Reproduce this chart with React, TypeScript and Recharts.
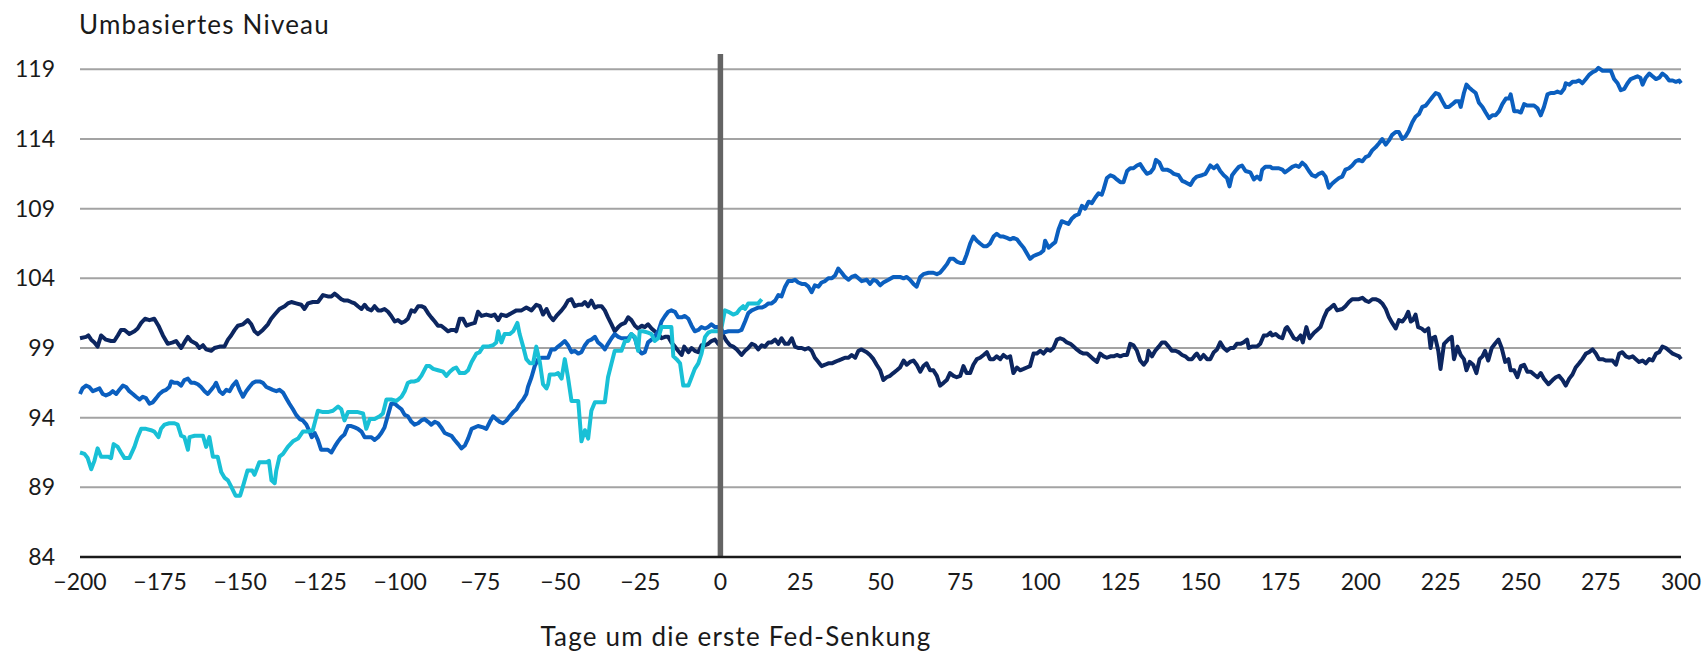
import React from 'react';
import { LineChart, Line, XAxis, YAxis, CartesianGrid, ReferenceLine } from 'recharts';

// Tage um die erste Fed-Senkung (x) und umbasiertes Niveau (y)
const xTicks = [-200, -175, -150, -125, -100, -75, -50, -25, 0, 25, 50, 75, 100, 125, 150, 175, 200, 225, 250, 275, 300];
const yTicks = [84, 89, 94, 99, 104, 109, 114, 119];

const darkBlueLine: [number, number][] = [
  [-200, 99.7], [-198.1, 99.8], [-197.4, 99.9], [-196.5, 99.6], [-195.5, 99.4], [-194.5, 99.1], [-193.4, 99.9], [-191.9, 99.6],
  [-190.3, 99.5], [-189.3, 99.5], [-188.2, 99.9], [-187.2, 100.3], [-186.1, 100.3], [-184.6, 100.0], [-183, 100.2], [-182, 100.4],
  [-180.9, 100.8], [-179.7, 101.1], [-178.3, 101.0], [-176.8, 101.1], [-175.5, 100.6], [-174.1, 99.9], [-172.6, 99.3], [-171, 99.4],
  [-170, 99.5], [-168.4, 99.0], [-167.4, 99.4], [-166.3, 99.8], [-165.3, 99.5], [-163.7, 99.3], [-162.7, 99.0], [-161.6, 99.2],
  [-160.6, 98.9], [-159, 98.8], [-158, 99.0], [-156.4, 99.1], [-154.9, 99.1], [-153.8, 99.6], [-152.8, 99.9], [-151.7, 100.3],
  [-150.7, 100.6], [-149.1, 100.7], [-147.6, 101.0], [-146.5, 100.7], [-145.5, 100.2], [-144.4, 100.0], [-142.9, 100.3], [-141.3, 100.7],
  [-140.3, 101.1], [-139.2, 101.4], [-137.7, 101.8], [-136.1, 102.0], [-135.1, 102.2], [-134, 102.3], [-132.5, 102.2], [-130.9, 102.1],
  [-129.9, 101.8], [-128.8, 102.2], [-127.3, 102.3], [-125.7, 102.3], [-124.1, 102.8], [-122.6, 102.7], [-121.5, 102.7], [-120.5, 102.9],
  [-119.4, 102.7], [-118.4, 102.5], [-117.4, 102.4], [-116.3, 102.4], [-115.3, 102.3], [-114.2, 102.2], [-113.2, 102.0], [-112.1, 101.8],
  [-111.1, 102.1], [-110.1, 101.8], [-109, 101.7], [-108, 102.0], [-106.9, 101.7], [-105.9, 101.7], [-104.9, 101.8], [-103.8, 101.6],
  [-102.8, 101.3], [-101.7, 100.9], [-100.7, 101.0], [-99.6, 100.8], [-98.6, 100.9], [-97.6, 101.1], [-96.5, 101.7], [-95.5, 101.6],
  [-94.4, 102.0], [-93.4, 102.0], [-92.4, 101.9], [-91.3, 101.5], [-90.3, 101.2], [-89.2, 100.9], [-88.2, 100.6], [-87.2, 100.6],
  [-86.1, 100.4], [-85.1, 100.2], [-84, 100.3], [-83, 100.3], [-82.5, 100.2], [-81.4, 101.1], [-80.4, 101.1], [-79.3, 100.6],
  [-78.3, 100.7], [-76.7, 100.8], [-75.7, 101.6], [-74.6, 101.3], [-73.1, 101.4], [-71.5, 101.3], [-70.5, 101.4], [-69.4, 101.0],
  [-68.4, 101.4], [-66.8, 101.3], [-65.3, 101.5], [-63.7, 101.7], [-62.1, 101.7], [-60.6, 101.9], [-59, 101.7], [-57.5, 102.1],
  [-56.4, 102.0], [-55.4, 101.4], [-54.3, 101.8], [-53.3, 101.3], [-52.2, 101.0], [-51.2, 101.3], [-49.6, 101.7], [-48.6, 102.0],
  [-47.6, 102.4], [-46.5, 102.5], [-45.5, 102.0], [-44.4, 102.1], [-43.2, 102.1], [-42.3, 102.3], [-41.3, 102.0], [-40.3, 102.4],
  [-39.2, 101.9], [-38.2, 102.0], [-37.1, 102.0], [-36.1, 101.7], [-35.1, 101.2], [-34, 100.7], [-33, 100.2], [-31.9, 100.5],
  [-30.9, 100.7], [-29.8, 100.8], [-28.8, 101.2], [-27.8, 101.0], [-26.7, 100.6], [-25.7, 100.4], [-24.6, 100.6], [-23.6, 100.5],
  [-22.6, 100.7], [-21.5, 100.4], [-20.5, 100.2], [-19.4, 100.0], [-18.4, 99.7], [-17.3, 99.8], [-16.3, 99.8], [-15.3, 99.4],
  [-14.2, 99.1], [-13.2, 98.8], [-12.1, 98.5], [-11.3, 99.1], [-10, 98.7], [-9, 99.0], [-8, 98.8], [-6.9, 98.7],
  [-5.9, 99.2], [-4.8, 99.2], [-3.8, 99.3], [-2.8, 99.5], [-1.7, 99.6], [-0.7, 99.3], [0, 99.6], [0.9, 99.9],
  [1.9, 99.5], [3, 99.2], [4, 99.1], [5.1, 98.9], [6.6, 98.5], [7.7, 98.8], [8.7, 99.0], [9.8, 99.3],
  [10.8, 99.2], [11.8, 98.9], [12.9, 99.2], [13.9, 99.1], [15, 99.4], [16, 99.4], [17.1, 99.6], [18.1, 99.3],
  [19.1, 99.7], [20.2, 99.3], [21.2, 99.3], [22.3, 99.7], [23.3, 99.1], [24.3, 99.0], [25.4, 99.0], [26.4, 98.9],
  [27.5, 99.0], [28.5, 98.8], [29.5, 98.3], [30.6, 98.0], [31.6, 97.7], [32.7, 97.8], [33.7, 97.9], [34.8, 97.9],
  [35.8, 98.0], [36.8, 98.1], [37.9, 98.2], [38.9, 98.3], [40, 98.3], [41, 98.5], [42.1, 98.3], [43.1, 98.8],
  [44.1, 98.9], [45.7, 98.7], [46.7, 98.5], [47.8, 98.2], [48.8, 97.8], [49.9, 97.4], [50.9, 96.7], [51.9, 96.9],
  [53, 97.0], [54, 97.2], [55.1, 97.4], [56.1, 97.6], [57.2, 98.1], [58.2, 97.8], [59.2, 98.0], [60.3, 98.1],
  [61.3, 97.8], [62.4, 97.3], [63.4, 97.7], [64.4, 97.9], [65.5, 97.4], [66.5, 97.4], [67.6, 97.0], [68.6, 96.3],
  [69.7, 96.5], [70.7, 96.7], [71.7, 97.2], [72.8, 97.0], [73.8, 96.9], [74.9, 97.0], [75.9, 97.7], [76.9, 97.2],
  [78, 97.2], [79, 97.8], [80.1, 98.2], [81.1, 98.3], [82.2, 98.5], [83.2, 98.7], [84.2, 98.2], [85.3, 98.2],
  [86.3, 98.4], [87.4, 98.2], [88.4, 98.5], [89.5, 98.3], [90.5, 98.4], [91.5, 97.2], [92.6, 97.6], [93.6, 97.4],
  [94.7, 97.5], [95.7, 97.6], [96.7, 97.7], [97.8, 98.6], [98.8, 98.6], [99.9, 98.8], [100.9, 98.6], [102, 98.9],
  [103, 98.8], [104, 99.0], [105.1, 99.6], [106.1, 99.7], [107.2, 99.6], [108.2, 99.4], [109.3, 99.3], [110.3, 99.1],
  [111.3, 98.9], [112.4, 98.7], [113.4, 98.6], [114.5, 98.6], [115.5, 98.4], [116.5, 98.2], [117.6, 98.0], [118.6, 98.6],
  [119.7, 98.4], [120.7, 98.3], [121.8, 98.4], [122.8, 98.4], [123.8, 98.5], [124.9, 98.4], [125.9, 98.5], [127, 98.5],
  [128, 99.3], [129, 99.2], [130.1, 98.8], [131.1, 98.1], [132.2, 97.8], [133.2, 98.1], [133.7, 98.8], [134.8, 98.4],
  [135.8, 98.8], [136.9, 99.1], [137.9, 99.4], [138.9, 99.4], [140, 99.1], [141, 98.8], [142.1, 98.8], [143.1, 98.7],
  [144.2, 98.5], [145.2, 98.4], [146.2, 98.2], [147.3, 98.2], [148.3, 98.5], [148.8, 98.6], [149.9, 98.2], [150.9, 98.5],
  [152, 98.2], [153, 98.2], [154.1, 98.7], [155.1, 98.9], [156.1, 99.4], [157.2, 99.0], [158.2, 98.8], [159.3, 99.0],
  [160.3, 99.0], [161.3, 99.3], [162.4, 99.3], [163.4, 99.4], [164.5, 99.6], [165, 99.0], [166, 99.1], [167.6, 99.1],
  [168.6, 99.3], [169.7, 99.9], [170.7, 99.9], [171.8, 100.1], [172.3, 99.9], [173.4, 100.0], [174.4, 99.8], [175.5, 99.7],
  [176.5, 100.4], [177, 100.5], [178.1, 100.1], [179.1, 99.7], [180.1, 99.6], [181.2, 99.9], [181.9, 99.4], [183, 100.5],
  [184, 99.7], [185.4, 100.1], [186.4, 100.3], [187.4, 100.5], [188.5, 101.2], [189.5, 101.7], [190.6, 101.9], [191.6, 102.1],
  [192.6, 101.7], [194.2, 101.8], [195.2, 102.0], [196.3, 102.3], [197.3, 102.5], [198.4, 102.5], [199.4, 102.5], [200.5, 102.6],
  [201.5, 102.4], [202.5, 102.3], [203.6, 102.5], [204.6, 102.5], [205.7, 102.4], [206.7, 102.2], [207.8, 101.8], [208.8, 101.2],
  [209.8, 100.8], [210.9, 100.4], [211.9, 101.0], [213, 100.9], [214, 101.2], [214.8, 101.6], [215.6, 100.9], [216.3, 101.0],
  [217.1, 101.4], [217.9, 100.5], [219, 100.4], [220, 100.2], [221.1, 100.4], [221.8, 99.0], [222.3, 99.7], [223.2, 99.8],
  [224.2, 98.8], [224.9, 97.5], [226, 99.3], [227.3, 99.6], [228.4, 99.8], [229.1, 98.2], [230.2, 99.1], [231.2, 98.5],
  [232.2, 98.2], [233, 97.4], [234, 98.0], [235.1, 97.8], [236.1, 97.2], [237.1, 98.2], [238, 98.4], [238.8, 98.8],
  [239.8, 98.1], [240.9, 99.0], [241.9, 99.3], [243, 99.6], [244, 99.0], [245.1, 98.0], [246.1, 98.2], [246.8, 97.4],
  [247.9, 97.4], [248.9, 96.9], [250, 97.7], [251, 97.8], [252, 97.3], [253.1, 97.3], [254.1, 97.1], [255.2, 96.9],
  [256.2, 97.2], [257.2, 96.8], [258.6, 96.4], [259.9, 96.7], [260.9, 96.9], [261.9, 97.0], [263, 96.7], [264, 96.3],
  [265.1, 96.8], [266.1, 97.1], [267.1, 97.6], [268.2, 97.9], [269.2, 98.2], [270.3, 98.6], [271.3, 98.7], [272.4, 98.9],
  [273.4, 98.6], [274.4, 98.2], [275.5, 98.2], [276.5, 98.1], [277.6, 98.1], [278.6, 98.1], [279.7, 97.8], [280.7, 98.6],
  [281.7, 98.7], [282.8, 98.4], [283.8, 98.3], [284.9, 98.4], [285.9, 98.2], [286.9, 98.0], [288, 98.1], [289, 97.9],
  [290.1, 98.2], [291.1, 98.1], [292.2, 98.6], [293.2, 98.7], [294.2, 99.1], [295.3, 99.0], [296.3, 98.8], [297.4, 98.6],
  [298.4, 98.5], [299.4, 98.4], [300, 98.2],
];

const midBlueLine: [number, number][] = [
  [-200, 95.7], [-199.2, 96.1], [-198.1, 96.3], [-197.1, 96.2], [-196, 95.9], [-195, 96.0], [-193.9, 96.1], [-192.9, 95.7],
  [-191.9, 95.6], [-190.8, 95.7], [-189.8, 95.9], [-188.7, 95.7], [-187.7, 96.0], [-186.6, 96.3], [-185.6, 96.2], [-184.6, 95.9],
  [-183.5, 95.7], [-182.5, 95.5], [-181.4, 95.3], [-180.4, 95.5], [-179.4, 95.4], [-178.3, 95.0], [-177.3, 95.1], [-176.2, 95.4],
  [-175.2, 95.7], [-174.1, 95.9], [-173.1, 96.0], [-172.1, 96.2], [-171.5, 96.6], [-170.5, 96.5], [-169.5, 96.5], [-168.4, 96.3],
  [-167.4, 96.7], [-166.3, 96.8], [-165.3, 96.5], [-164.2, 96.5], [-163.2, 96.4], [-162.2, 96.2], [-161.1, 95.9], [-160.1, 95.7],
  [-159, 96.0], [-158, 96.3], [-157.5, 96.5], [-156.4, 95.9], [-155.4, 95.7], [-154.3, 96.0], [-153.3, 95.9], [-152.3, 96.3],
  [-151.2, 96.6], [-150.2, 96.0], [-149.1, 95.5], [-148.1, 95.9], [-147.1, 96.2], [-146, 96.5], [-145, 96.6], [-143.9, 96.6],
  [-142.9, 96.5], [-141.8, 96.2], [-140.8, 96.1], [-139.8, 96.0], [-138.7, 95.9], [-137.7, 96.0], [-136.6, 95.8], [-135.6, 95.4],
  [-134.6, 95.0], [-133.5, 94.6], [-132.5, 94.2], [-131.4, 93.9], [-130.4, 93.8], [-129.3, 93.5], [-128.3, 93.0], [-127.6, 92.6],
  [-126.7, 92.9], [-125.7, 92.4], [-124.7, 91.7], [-123.6, 91.7], [-122.6, 91.7], [-121.5, 91.5], [-120.5, 91.9], [-119.4, 92.3],
  [-118.4, 92.6], [-117.4, 92.8], [-116.3, 93.4], [-115.3, 93.4], [-114.2, 93.3], [-113.2, 93.2], [-112.1, 93.0], [-111.1, 92.6],
  [-110.1, 92.6], [-109, 92.6], [-108, 92.4], [-106.9, 92.6], [-105.9, 92.9], [-104.9, 93.3], [-103.8, 94.2], [-102.8, 95.0],
  [-101.7, 95.0], [-100.7, 94.8], [-99.6, 94.6], [-98.6, 94.2], [-97.6, 94.1], [-96.5, 93.7], [-95.5, 93.5], [-94.4, 93.6],
  [-93.4, 93.8], [-92.4, 93.9], [-91.3, 93.7], [-90.3, 93.5], [-89.2, 93.7], [-88.2, 93.6], [-87.2, 93.3], [-86.1, 92.9],
  [-85.1, 92.8], [-84, 92.7], [-83, 92.4], [-81.9, 92.1], [-80.9, 91.8], [-79.8, 92.0], [-78.8, 92.5], [-77.7, 93.2],
  [-75.7, 93.4], [-74.1, 93.3], [-73.1, 93.2], [-72, 93.7], [-71, 94.1], [-70, 93.9], [-68.9, 93.7], [-67.9, 93.6],
  [-66.8, 93.8], [-65.8, 94.1], [-64.7, 94.4], [-63.7, 94.6], [-62.7, 95.0], [-61.6, 95.3], [-60.6, 95.7], [-60.1, 96.2],
  [-59, 96.9], [-58, 97.7], [-56.9, 98.2], [-55.9, 98.3], [-54.9, 98.3], [-53.8, 98.3], [-52.8, 98.9], [-51.7, 98.9],
  [-50.7, 99.1], [-49.6, 99.3], [-48.6, 99.5], [-47.6, 99.2], [-46.5, 98.7], [-45.5, 98.8], [-44.4, 98.6], [-43.4, 98.7],
  [-42.3, 99.2], [-41.3, 99.5], [-40.3, 99.6], [-39.2, 99.8], [-38.2, 99.4], [-37.1, 99.2], [-36.1, 98.9], [-35.1, 99.3],
  [-34, 99.7], [-33, 100.0], [-31.9, 99.8], [-30.9, 99.7], [-29.8, 99.7], [-28.8, 99.7], [-27.8, 100.0], [-26.7, 99.7],
  [-25.7, 98.9], [-24.6, 98.6], [-23.6, 98.7], [-22.6, 99.4], [-21.5, 99.6], [-20.5, 99.8], [-19.4, 100.2], [-18.4, 100.9],
  [-17.3, 101.3], [-16.3, 101.6], [-15.3, 101.7], [-14.2, 101.6], [-13.2, 101.2], [-12.1, 101.2], [-11.1, 101.3], [-10, 101.1],
  [-9, 100.6], [-8, 100.2], [-6.9, 100.3], [-5.9, 100.5], [-4.8, 100.4], [-3.8, 100.5], [-2.8, 100.7], [-1.7, 100.5],
  [-0.7, 100.5], [0.2, 100.4], [0.9, 100.1], [2.5, 100.2], [4, 100.2], [5.6, 100.2], [6.6, 100.3], [7.7, 100.9],
  [8.7, 101.5], [9.8, 101.7], [10.8, 101.8], [11.8, 101.9], [12.9, 101.9], [13.9, 102.0], [15, 102.2], [16, 102.2],
  [17.1, 102.4], [18.1, 102.8], [19.1, 102.7], [20.2, 103.4], [21.2, 103.8], [22.3, 103.8], [23.3, 103.9], [24.3, 103.7],
  [25.4, 103.6], [26.4, 103.6], [27.5, 103.4], [28.5, 103.0], [29.5, 103.5], [30.6, 103.4], [31.6, 103.7], [32.7, 103.8],
  [33.7, 104.0], [34.8, 104.0], [35.8, 104.2], [36.8, 104.7], [37.9, 104.4], [38.9, 104.1], [40, 103.9], [41, 104.1],
  [42.1, 104.2], [43.1, 104.0], [44.1, 103.8], [45.7, 103.9], [46.7, 103.6], [47.8, 103.9], [48.8, 103.8], [49.9, 103.5],
  [50.9, 103.7], [52.5, 103.9], [54, 104.1], [55.1, 104.1], [56.1, 104.1], [57.2, 104.0], [58.2, 104.1], [59.2, 103.9],
  [60.3, 103.6], [61.3, 103.4], [62.4, 104.1], [63.4, 104.3], [65, 104.4], [66.5, 104.4], [67.6, 104.3], [68.6, 104.4],
  [69.7, 104.7], [70.7, 105.0], [71.7, 105.4], [72.8, 105.4], [73.8, 105.2], [74.9, 105.1], [75.9, 105.1], [76.9, 105.7],
  [78, 106.5], [79, 107.0], [80.1, 106.7], [81.1, 106.5], [82.2, 106.3], [83.2, 106.3], [84.2, 106.5], [85.3, 107.0],
  [86.3, 107.2], [87.4, 107.0], [88.4, 107.0], [89.5, 106.9], [90.5, 106.8], [91.5, 106.9], [92.6, 106.8], [93.6, 106.5],
  [94.7, 106.2], [95.7, 105.8], [96.7, 105.4], [97.8, 105.6], [98.8, 105.7], [99.9, 105.8], [100.9, 106.0], [101.4, 106.7],
  [102.5, 106.2], [103.5, 106.4], [104.6, 106.6], [105.6, 107.5], [106.6, 108.1], [107.7, 108.0], [108.7, 107.9], [109.8, 108.3],
  [110.8, 108.5], [111.9, 108.6], [112.9, 109.2], [113.9, 109.0], [115, 109.5], [116, 109.4], [117.1, 109.8], [118.1, 110.1],
  [119.1, 110.0], [119.7, 110.4], [120.7, 111.2], [121.8, 111.4], [122.8, 111.3], [123.8, 111.1], [124.9, 110.9], [125.9, 110.9],
  [127, 111.7], [128, 111.9], [129, 111.9], [130.1, 112.1], [131.1, 112.2], [132.2, 111.8], [133.2, 111.5], [134.3, 111.6],
  [135.3, 111.9], [136, 112.5], [137.1, 112.3], [138.1, 111.8], [139.5, 111.8], [140.5, 111.7], [141.6, 111.5], [143.1, 111.4],
  [144.2, 111.0], [145.2, 110.9], [146.8, 110.7], [147.8, 111.1], [148.8, 111.3], [150.4, 111.4], [151.5, 111.5], [153, 112.1],
  [154.1, 111.9], [155.1, 112.1], [156.1, 111.7], [157.2, 111.4], [158.2, 111.2], [159, 110.6], [159.8, 111.4], [160.8, 111.7],
  [161.9, 112.0], [162.9, 112.1], [164, 111.7], [165.5, 111.6], [166.6, 111.1], [167.6, 111.3], [168.6, 111.1], [169.2, 111.8],
  [170.2, 112.0], [171.8, 112.0], [172.3, 111.9], [173.4, 111.9], [174.4, 111.9], [175.5, 111.8], [176.3, 111.6], [177.5, 111.8],
  [178.6, 112.0], [179.6, 112.1], [180.7, 112.0], [181.7, 112.3], [182.7, 112.1], [183.8, 111.7], [184.8, 111.4], [185.9, 111.3],
  [186.9, 111.5], [188, 111.6], [189, 111.3], [190, 110.5], [191.1, 110.8], [192.1, 111.0], [193.2, 111.2], [194.2, 111.3],
  [195.2, 111.8], [196.3, 111.9], [197.3, 112.1], [198.4, 112.4], [199.4, 112.5], [200.5, 112.4], [201.5, 112.7], [202.5, 112.8],
  [203.6, 113.2], [204.6, 113.4], [205.7, 113.7], [206.7, 114.0], [207.8, 113.6], [208.8, 113.9], [209.8, 114.3], [210.9, 114.5],
  [211.9, 114.5], [213, 114.0], [214, 114.2], [215, 114.6], [216.1, 115.2], [217.1, 115.6], [218.2, 115.8], [219.2, 116.3],
  [220.3, 116.4], [221.3, 116.7], [222.3, 117.0], [223.4, 117.3], [224.4, 117.2], [225.5, 116.7], [226.5, 116.3], [227.5, 116.3],
  [228.6, 116.5], [229.6, 116.7], [230.7, 116.7], [231.2, 116.3], [232.2, 117.3], [233, 117.9], [233.8, 117.7], [234.8, 117.5],
  [235.9, 117.3], [236.9, 116.6], [238, 116.3], [239, 115.9], [240.1, 115.5], [241.1, 115.7], [242.1, 115.7], [243.2, 116.0],
  [244.2, 116.5], [245.3, 116.9], [246.3, 116.9], [246.8, 117.2], [247.9, 116.0], [248.9, 116.0], [250, 115.9], [251, 116.5],
  [252, 116.4], [253.1, 116.4], [254.1, 116.4], [255.2, 116.2], [256.2, 115.7], [257.2, 116.3], [258.3, 117.2], [259.3, 117.3],
  [260.4, 117.3], [261.4, 117.4], [262.5, 117.3], [263.5, 117.6], [264, 118.0], [265.1, 117.9], [266.1, 118.1], [267.1, 118.1],
  [268.2, 118.2], [269.2, 118.0], [270.3, 118.3], [271.3, 118.6], [272.4, 118.8], [273.4, 118.9], [274.2, 119.1], [275.5, 118.9],
  [276.5, 118.9], [278.1, 118.9], [279.1, 118.3], [280.2, 118.0], [281.2, 117.5], [282.3, 117.6], [283.3, 118.0], [284.3, 118.3],
  [285.4, 118.4], [286.4, 118.5], [287.3, 118.4], [288, 117.9], [289, 118.4], [290.1, 118.7], [291.1, 118.5], [292.2, 118.3],
  [293.2, 118.4], [294.2, 118.7], [295.3, 118.5], [296.3, 118.2], [297.4, 118.2], [298.4, 118.1], [299.4, 118.2], [300, 118.0],
];

const cyanLine: [number, number][] = [
  [-200, 91.5], [-198.6, 91.4], [-197.6, 91.1], [-196.5, 90.3], [-195.5, 90.9], [-194.5, 91.8], [-193.4, 91.2], [-192.4, 91.2],
  [-191.3, 91.2], [-190.3, 91.1], [-189.5, 92.1], [-188.2, 91.9], [-187.2, 91.5], [-186.1, 91.1], [-184.6, 91.1], [-183, 91.9],
  [-182, 92.6], [-180.9, 93.2], [-179.4, 93.2], [-177.8, 93.1], [-176.8, 93.0], [-175.5, 92.6], [-174.7, 93.2], [-173.6, 93.5],
  [-172.1, 93.6], [-170.5, 93.6], [-169.5, 93.5], [-168.4, 92.7], [-167.4, 92.6], [-166.3, 91.7], [-165.8, 92.6], [-164.2, 92.7],
  [-162.7, 92.7], [-161.6, 92.7], [-160.6, 91.9], [-159.6, 92.6], [-158.5, 91.2], [-157, 91.2], [-155.9, 90.1], [-154.9, 89.7],
  [-153.8, 89.5], [-152.9, 89.1], [-151.4, 88.4], [-150, 88.4], [-149.2, 89.0], [-147.7, 90.2], [-146.2, 90.2], [-145.5, 89.9],
  [-144, 90.8], [-141.7, 90.8], [-141, 90.9], [-140.2, 89.5], [-139.2, 89.3], [-138.7, 90.2], [-137.7, 91.2], [-136.6, 91.4],
  [-135.1, 91.9], [-133.5, 92.3], [-131.9, 92.5], [-130.4, 93.0], [-128.8, 93.0], [-127.3, 93.1], [-125.7, 94.5], [-124.1, 94.4],
  [-122.6, 94.4], [-121, 94.5], [-119.4, 94.8], [-118.4, 94.6], [-117.4, 93.8], [-116.3, 94.4], [-114.7, 94.4], [-113.2, 94.4],
  [-111.6, 94.3], [-110.6, 93.2], [-109.5, 93.9], [-108, 93.9], [-106.4, 94.1], [-105.4, 94.3], [-104.3, 95.3], [-102.8, 95.3],
  [-101.2, 95.2], [-99.6, 95.5], [-98.6, 95.9], [-97.6, 96.5], [-96.5, 96.6], [-95.5, 96.6], [-94.4, 96.7], [-93.4, 97.0],
  [-91.8, 97.7], [-90.8, 97.7], [-89.7, 97.5], [-88.2, 97.4], [-86.6, 97.3], [-85.6, 97.0], [-84.5, 97.3], [-83.5, 97.5],
  [-82.5, 97.6], [-81.4, 97.2], [-79.8, 97.2], [-78.8, 97.4], [-77.7, 98.0], [-76.2, 98.6], [-75.2, 98.7], [-74.1, 99.1],
  [-72.6, 99.1], [-71, 99.2], [-70, 99.4], [-69.4, 100.2], [-68.4, 99.4], [-67.4, 100.0], [-65.8, 100.0], [-64.7, 100.2],
  [-63.4, 100.8], [-62.7, 100.0], [-61.6, 99.1], [-60.6, 98.2], [-59.5, 97.9], [-58.5, 97.9], [-57.5, 99.1], [-56.4, 98.0],
  [-55.4, 96.4], [-54.3, 96.1], [-53.8, 96.4], [-53.3, 97.1], [-51.7, 97.1], [-50.7, 97.2], [-49.6, 96.8], [-48.6, 98.2],
  [-47.6, 96.9], [-46.5, 95.2], [-45.5, 95.2], [-44.4, 95.2], [-43.4, 92.3], [-42.3, 93.1], [-41.3, 92.5], [-40.3, 94.5],
  [-39.2, 95.1], [-37.7, 95.1], [-36.1, 95.1], [-35.1, 96.9], [-34, 97.9], [-33, 98.8], [-31.9, 98.8], [-30.9, 98.8],
  [-29.8, 99.5], [-28.8, 99.5], [-27.8, 100.0], [-26.7, 99.8], [-25.7, 98.8], [-25.2, 100.2], [-24.1, 100.2], [-22.6, 100.1],
  [-21.5, 100.0], [-20.5, 99.5], [-19.4, 99.7], [-18.4, 100.5], [-17.3, 100.5], [-15.3, 100.5], [-14.7, 98.4], [-13.7, 98.2],
  [-12.6, 97.9], [-11.6, 96.3], [-10, 96.3], [-9, 96.9], [-8, 97.5], [-6.9, 97.9], [-5.9, 98.6], [-4.8, 99.8],
  [-3.8, 100.1], [-2.8, 100.2], [-1.7, 100.2], [-0.7, 100.2], [0.2, 100.3], [1.4, 101.7], [2.5, 101.6], [4, 101.4],
  [5.1, 101.5], [6.1, 101.8], [7.1, 102.0], [7.7, 101.8], [8.7, 102.2], [10.3, 102.2], [11.8, 102.2], [12.9, 102.5],
];

const toPoints = (series: [number, number][]) => series.map(([day, level]) => ({ day, level }));

const fmtTick = (v: number) => (v < 0 ? `\u2212${Math.abs(v)}` : `${v}`);

const font = 'Lato, "Noto Sans", sans-serif';

export default function App() {
  return (
    <div style={{ position: 'absolute', left: 0, top: 0, width: 1705, height: 653, background: '#fff' }}>
      <LineChart width={1705} height={653} margin={{ top: 54, right: 24, bottom: 0, left: 0 }}>
        <CartesianGrid vertical={false} horizontalValues={yTicks} stroke="#a3a3a3" strokeWidth={2} />
        <XAxis
          type="number"
          dataKey="day"
          domain={[-200, 300]}
          ticks={xTicks}
          interval={0}
          height={96}
          tickLine={false}
          tickSize={0}
          tickMargin={17}
          axisLine={{ stroke: '#1a1a1a', strokeWidth: 2.5 }}
          tickFormatter={fmtTick}
          tick={{ fontFamily: font, fontSize: 23, fill: '#1a1a1a' }}
        />
        <YAxis
          type="number"
          domain={[84, 120.1]}
          ticks={yTicks}
          interval={0}
          width={80}
          tickLine={false}
          tickSize={0}
          tickMargin={25}
          axisLine={false}
          tick={{ fontFamily: font, fontSize: 23, fill: '#1a1a1a' }}
        />
        <Line data={toPoints(darkBlueLine)} dataKey="level" type="linear" stroke="#0c2660" strokeWidth={4} dot={false} isAnimationActive={false} strokeLinejoin="round" />
        <Line data={toPoints(midBlueLine)} dataKey="level" type="linear" stroke="#0b5fbf" strokeWidth={4} dot={false} isAnimationActive={false} strokeLinejoin="round" />
        <Line data={toPoints(cyanLine)} dataKey="level" type="linear" stroke="#19c0d6" strokeWidth={4} dot={false} isAnimationActive={false} strokeLinejoin="round" />
        <ReferenceLine x={0} stroke="#646464" strokeWidth={5.5} />
      </LineChart>
      <svg width={1705} height={653} style={{ position: 'absolute', left: 0, top: 0, pointerEvents: 'none' }}>
        <text x={79} y={34} fontFamily={font} fontSize={26} fill="#1a1a1a" letterSpacing={1.2}>Umbasiertes Niveau</text>
        <text x={736} y={646} fontFamily={font} fontSize={26} fill="#1a1a1a" textAnchor="middle" letterSpacing={1.2}>Tage um die erste Fed-Senkung</text>
      </svg>
    </div>
  );
}
